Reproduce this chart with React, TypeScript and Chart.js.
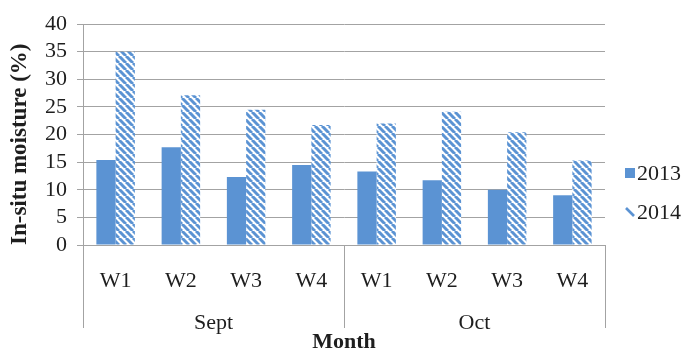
import { useEffect, useRef } from "react";
import { Chart, registerables } from "chart.js";

Chart.register(...registerables);

// Weekly in-situ moisture readings, grouped by month
const weeks = ["W1", "W2", "W3", "W4", "W1", "W2", "W3", "W4"];
const months = ["Sept", "Oct"];
const seriesNames = ["2013", "2014"];
const moisture2013 = [15.4, 17.7, 12.3, 14.5, 13.3, 11.7, 10.0, 9.0];
const moisture2014 = [35.0, 27.1, 24.5, 21.7, 22.0, 24.1, 20.4, 15.3];
const yMin = 0;
const yMax = 40;
const yStep = 5;

const BLUE = "#5B93D3";
const GRID = "#A3A3A3";
const TEXT = "#1E1E1E";
const FONT = "'Liberation Serif', 'Times New Roman', serif";
const SIZE = 22;

// Downward diagonal hatch on white
function makeHatch(color: string): CanvasPattern | string {
  const s = 7;
  const c = document.createElement("canvas");
  c.width = s;
  c.height = s;
  const g = c.getContext("2d");
  if (!g) return color;
  g.fillStyle = "#ffffff";
  g.fillRect(0, 0, s, s);
  g.strokeStyle = color;
  g.lineWidth = 3;
  for (const o of [-s, 0, s]) {
    g.beginPath();
    g.moveTo(o, 0);
    g.lineTo(o + s, s);
    g.stroke();
  }
  return g.createPattern(c, "repeat") || color;
}

// Vertical separators of the two-level category axis
const groupDividers = {
  id: "groupDividers",
  afterDraw(chart: any) {
    const { ctx, chartArea } = chart;
    const x = chart.scales.x;
    const xg = chart.scales.xg;
    const perGroup = weeks.length / months.length;
    const bottom = xg.top + 33;
    ctx.save();
    ctx.strokeStyle = GRID;
    ctx.lineWidth = 1;
    for (let gi = 0; gi <= months.length; gi++) {
      let px: number;
      if (gi === 0) px = chartArea.left;
      else if (gi === months.length) px = chartArea.right;
      else px = (x.getPixelForValue(gi * perGroup - 1) + x.getPixelForValue(gi * perGroup)) / 2;
      const xx = Math.round(px) + 0.5;
      ctx.beginPath();
      ctx.moveTo(xx, chartArea.bottom);
      ctx.lineTo(xx, bottom);
      ctx.stroke();
    }
    ctx.restore();
  },
};

// Legend at the right of the plot
const sideLegend = {
  id: "sideLegend",
  afterDraw(chart: any) {
    const { ctx, chartArea } = chart;
    const x0 = chartArea.right + 20;
    const rows = [173, 212];
    ctx.save();
    ctx.font = `${SIZE}px ${FONT}`;
    ctx.textBaseline = "middle";
    ctx.textAlign = "left";
    chart.data.datasets.forEach((ds: any, i: number) => {
      const cy = rows[i];
      if (i === 0) {
        ctx.fillStyle = BLUE;
        ctx.fillRect(x0, cy - 5, 10, 10);
      } else {
        ctx.strokeStyle = BLUE;
        ctx.lineWidth = 2.6;
        ctx.beginPath();
        ctx.moveTo(x0 + 1, cy - 4);
        ctx.lineTo(x0 + 9, cy + 4);
        ctx.stroke();
      }
      ctx.fillStyle = TEXT;
      ctx.fillText(ds.label, x0 + 12, cy + 1);
    });
    ctx.restore();
  },
};

export default function App() {
  const canvasRef = useRef<HTMLCanvasElement | null>(null);

  useEffect(() => {
    const canvas = canvasRef.current;
    if (!canvas) return;
    const hatch = makeHatch(BLUE);

    const chart = new Chart(canvas, {
      type: "bar",
      data: {
        labels: weeks,
        datasets: [
          {
            label: seriesNames[0],
            data: moisture2013,
            backgroundColor: BLUE,
            borderWidth: 0,
            categoryPercentage: 0.59,
            barPercentage: 1.0,
          },
          {
            label: seriesNames[1],
            data: moisture2014,
            backgroundColor: hatch as any,
            borderWidth: 0,
            categoryPercentage: 0.59,
            barPercentage: 1.0,
          },
        ],
      },
      options: {
        animation: false,
        responsive: true,
        maintainAspectRatio: false,
        layout: { padding: { top: 24, right: 84, left: 0, bottom: 0 } },
        plugins: {
          legend: { display: false },
          tooltip: { enabled: false },
        },
        scales: {
          x: {
            type: "category",
            position: "bottom",
            weight: 0,
            grid: { display: false },
            border: { display: true, color: GRID, width: 1 },
            ticks: {
              color: TEXT,
              font: { family: FONT, size: SIZE },
              padding: 15,
              autoSkip: false,
              maxRotation: 0,
            },
            afterFit(scale: any) {
              scale.height = 50;
            },
          },
          xg: {
            type: "category",
            position: "bottom",
            weight: 1,
            labels: months,
            offset: true,
            grid: { display: false },
            border: { display: false },
            ticks: {
              color: TEXT,
              font: { family: FONT, size: SIZE },
              padding: 7,
              autoSkip: false,
              maxRotation: 0,
            },
            title: {
              display: true,
              text: "Month",
              color: TEXT,
              font: { family: FONT, size: SIZE, weight: "bold", lineHeight: 1 },
              padding: { top: 0, bottom: 0 },
            },
            afterFit(scale: any) {
              scale.height = 58;
            },
          },
          y: {
            min: yMin,
            max: yMax,
            grid: {
              color: GRID,
              lineWidth: 1,
              drawTicks: true,
              tickLength: 6,
            },
            border: { display: true, color: GRID, width: 1 },
            ticks: {
              stepSize: yStep,
              autoSkip: false,
              color: TEXT,
              font: { family: FONT, size: SIZE },
              padding: 10,
            },
            title: {
              display: true,
              text: "In-situ moisture (%)",
              align: "start",
              color: TEXT,
              font: { family: FONT, size: 23, weight: "bold", lineHeight: 1.2 },
              padding: { top: 6, bottom: 0 },
            },
            afterFit(scale: any) {
              scale.width = 83;
            },
          },
        },
      },
      plugins: [groupDividers, sideLegend],
    });

    return () => chart.destroy();
  }, []);

  return (
    <div style={{ position: "absolute", left: 0, top: 0, width: 689, height: 353, background: "#fff" }}>
      <canvas ref={canvasRef} />
    </div>
  );
}
